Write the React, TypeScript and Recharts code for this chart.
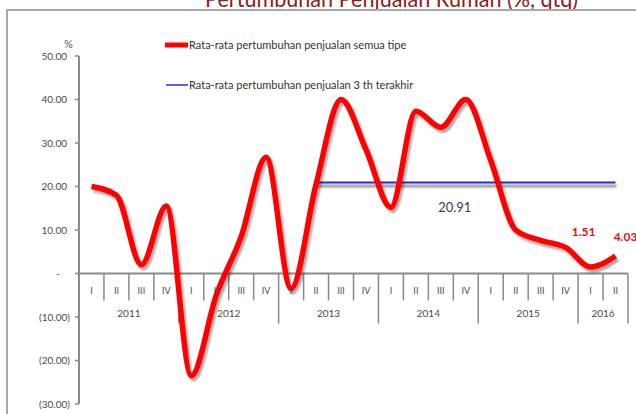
import React from 'react';
import { ComposedChart, Line, Scatter, XAxis, YAxis, ReferenceLine, LabelList, Customized } from 'recharts';

// quarterly data, 2011 Q1 .. 2016 Q2
const quarters = ['I', 'II', 'III', 'IV', 'I', 'II', 'III', 'IV', 'I', 'II', 'III', 'IV', 'I', 'II', 'III', 'IV', 'I', 'II', 'III', 'IV', 'I', 'II'];
const years = ['2011', '2012', '2013', '2014', '2015', '2016'];
const yearQuarterCount = [4, 4, 4, 4, 4, 2];
const growthAll = [20, 18, 2, 15.5, -23.5, -5, 8.5, 26.7, -3.5, 20.5, 40, 28.5, 15.2, 37.3, 33.6, 40, 26, 10, 7.6, 6, 1.51, 4.03];
const avgLast3Years = [null, null, null, null, null, null, null, null, null, 20.91, 20.91, 20.91, 20.91, 20.91, 20.91, 20.91, 20.91, 20.91, 20.91, 20.91, 20.91, 20.91];
const yTicks = [-30, -20, -10, 0, 10, 20, 30, 40, 50];

const RED = '#ff0000';
const BLUE = '#2b2bd6';
const GRAY = '#8a8a8a';
const FONT = 'Lato, "Open Sans", sans-serif';

const chartData = quarters.map((q, i) => ({
  x: i + 0.5,
  q,
  growth: growthAll[i],
  avg: avgLast3Years[i],
}));

const quarterLabels = quarters.map((q, i) => ({ x: i + 0.5, y: -3.9, text: q }));

let acc = 0;
const yearBounds: number[] = [0];
const yearLabels = years.map((y, i) => {
  const start = acc;
  acc += yearQuarterCount[i];
  yearBounds.push(acc);
  return { x: (start + acc) / 2, y: -9.3, text: y };
});

const fmtY = (v: number) => {
  if (v === 0) return '-';
  if (v < 0) return `(${Math.abs(v).toFixed(2)})`;
  return v.toFixed(2);
};

const YTick = (props: any) => {
  const { x, y, payload } = props;
  const v = payload.value;
  const dx = v === 0 ? -7 : v < 0 ? 3 : 0;
  return (
    <text x={x + dx} y={y} dy={3.5} textAnchor="end" fontSize={10} fill="#4a4a4a" fontFamily={FONT}>
      {fmtY(v)}
    </text>
  );
};

const TextShape = (size: number) => (props: any) => {
  const { cx, cy, payload } = props;
  return (
    <text x={cx} y={cy} dy={3.5} textAnchor="middle" fontSize={size} fill="#4a4a4a" fontFamily={FONT}>
      {payload.text}
    </text>
  );
};

const GrowthLabel = (props: any) => {
  const { x, y, index, value } = props;
  if (index < 20) return null;
  const dx = index === 20 ? -7 : 10;
  const dy = index === 20 ? -35 : -19;
  return (
    <text x={x + dx} y={y + dy} dy={4} textAnchor="middle" fontSize={12} fontWeight="bold" fill="#e01010" fontFamily={FONT}>
      {value.toFixed(2)}
    </text>
  );
};

const AvgLabel = (props: any) => {
  const { x, y, index, value } = props;
  if (index !== 15 || value == null) return null;
  return (
    <text x={x - 11} y={y + 25} dy={4.5} textAnchor="middle" fontSize={13} fill="#3a3a5a" fontFamily={FONT}>
      {value.toFixed(2)}
    </text>
  );
};

const Decor = () => (
  <g>
    <text x={205} y={7} textLength={373} lengthAdjust="spacingAndGlyphs" fontSize={23} fill="#8a1c24" fontFamily={FONT}>
      Pertumbuhan Penjualan Rumah (%, qtq)
    </text>
    <path d="M7,420 L7,10 L640,10" fill="none" stroke="#a8a8a8" strokeWidth={2} />
    <text x={64} y={48} fontSize={11} fill="#555" fontFamily={FONT}>%</text>
    <line x1={165} y1={45} x2={188} y2={45} stroke={RED} strokeWidth={5} />
    <text x={189} y={49} fontSize={11} fill="#333" fontFamily={FONT}>Rata-rata pertumbuhan penjualan semua tipe</text>
    <line x1={166} y1={85} x2={188} y2={85} stroke={BLUE} strokeWidth={1.5} />
    <text x={189} y={89} fontSize={11} fill="#333" fontFamily={FONT}>Rata-rata pertumbuhan penjualan 3 th terakhir</text>
  </g>
);

export default function App() {
  return (
    <div style={{ position: 'absolute', left: 0, top: 0, width: 636, height: 414, background: '#fff' }}>
      <ComposedChart width={636} height={414} data={chartData} margin={{ top: 56, right: 8, bottom: 10, left: 0 }}>
        <defs>
          <filter id="redShadow" filterUnits="userSpaceOnUse" x={0} y={0} width={636} height={414}>
            <feDropShadow dx={2} dy={3} stdDeviation={1.3} floodColor="#000" floodOpacity={0.35} />
          </filter>
          <filter id="blueShadow" filterUnits="userSpaceOnUse" x={0} y={0} width={636} height={414}>
            <feDropShadow dx={1} dy={3.5} stdDeviation={0.8} floodColor="#555" floodOpacity={0.9} />
          </filter>
        </defs>
        <XAxis dataKey="x" type="number" domain={[0, 22]} hide />
        <YAxis
          type="number"
          domain={[-30, 50]}
          ticks={yTicks}
          width={79}
          interval={0}
          tickSize={4}
          tickMargin={8}
          axisLine={{ stroke: GRAY, strokeWidth: 2 }}
          tickLine={{ stroke: GRAY, strokeWidth: 1.5 }}
          tick={<YTick />}
        />
        <ReferenceLine y={0} stroke={GRAY} strokeWidth={2} />
        {yearBounds.concat(Array.from({ length: 22 }, (_, i) => i)).filter((b, i, a) => a.indexOf(b) === i && b > 0).map((b) => (
          <ReferenceLine
            key={b}
            segment={[{ x: b, y: 0 }, { x: b, y: yearBounds.includes(b) ? -11.5 : -6.2 }]}
            stroke={GRAY}
            strokeWidth={1.5}
          />
        ))}
        <Scatter data={quarterLabels} dataKey="y" shape={TextShape(9)} isAnimationActive={false} />
        <Scatter data={yearLabels} dataKey="y" shape={TextShape(10)} isAnimationActive={false} />
        <Line
          dataKey="avg"
          type="linear"
          stroke={BLUE}
          strokeWidth={2}
          dot={false}
          filter="url(#blueShadow)"
          isAnimationActive={false}
        >
          <LabelList dataKey="avg" content={<AvgLabel />} />
        </Line>
        <Line
          dataKey="growth"
          type="monotone"
          stroke={RED}
          strokeWidth={5.5}
          dot={false}
          filter="url(#redShadow)"
          isAnimationActive={false}
        >
          <LabelList dataKey="growth" content={<GrowthLabel />} />
        </Line>
        <Customized component={Decor} />
      </ComposedChart>
    </div>
  );
}
